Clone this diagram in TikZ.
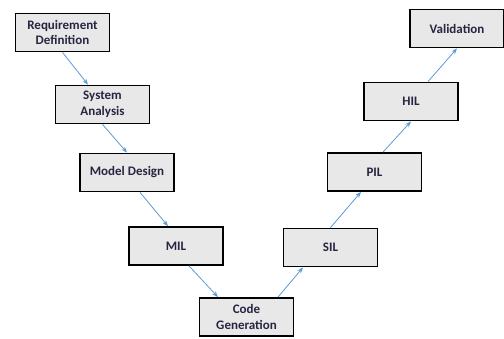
\documentclass[tikz,border=0pt]{standalone}
\usepackage{fontspec}
\setmainfont{Carlito}
\usetikzlibrary{arrows.meta}
\definecolor{boxfill}{HTML}{E8E8E8}
\definecolor{boxtext}{HTML}{262641}
\definecolor{flow}{HTML}{5B9BD5}
\tikzset{
  stage/.style={draw=black, line width=1.8pt, fill=boxfill,
    minimum width=94pt, minimum height=38pt, inner sep=1pt,
    align=center, text=boxtext,
    font=\fontsize{13}{15.5}\selectfont\bfseries},
  flowline/.style={draw=flow, line width=0.8pt,
    -{Stealth[length=6pt,width=4.5pt]}}
}
\begin{document}
\begin{tikzpicture}[x=1pt,y=-1pt]
  \useasboundingbox[fill=white] (0,0) rectangle (504,338);
  % left branch of the V
  \node[stage] (req) at (62.5,32.5)  {Requirement\\Definition};
  \node[stage] (sys) at (102.5,104.5) {System\\Analysis};
  \node[stage] (mod) at (127,172.5)  {Model Design};
  \node[stage] (mil) at (176,246)    {MIL};
  % bottom of the V
  \node[stage] (gen) at (246.5,317)  {Code\\Generation};
  % right branch of the V
  \node[stage] (sil) at (330.5,247.5) {SIL};
  \node[stage] (pil) at (374.5,172)  {PIL};
  \node[stage] (hil) at (411,101.5)  {HIL};
  \node[stage] (val) at (457,28.5)   {Validation};
  % connectors
  \draw[flowline] (req.south) -- ([xshift=-14.5pt]sys.north);
  \draw[flowline] (sys.south) -- (mod.north);
  \draw[flowline] ([xshift=13pt]mod.south) -- ([xshift=-8pt]mil.north);
  \draw[flowline] ([xshift=13pt]mil.south) -- ([xshift=-28.5pt]gen.north);
  \draw[flowline] ([xshift=31.5pt]gen.north) -- ([xshift=-27.5pt]sil.south);
  \draw[flowline] (sil.north) -- ([xshift=-13.5pt]pil.south);
  \draw[flowline] ([xshift=8.5pt]pil.north) -- (hil.south);
  \draw[flowline] ([xshift=17pt]hil.north) -- (val.south);
\end{tikzpicture}
\end{document}
